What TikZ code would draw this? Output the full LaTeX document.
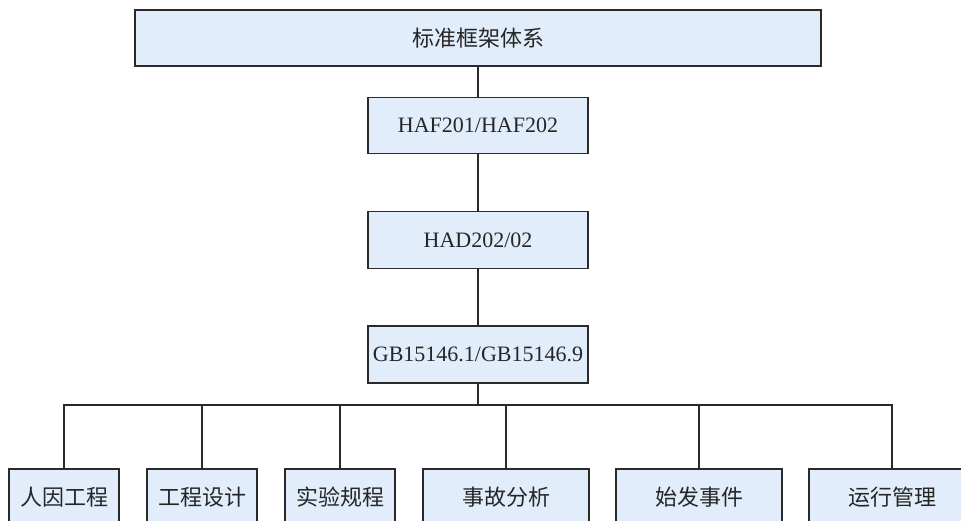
\documentclass[tikz,border=0pt]{standalone}
\usepackage{fontspec}
\setmainfont{Liberation Serif}
\newfontfamily\cjk{Noto Sans CJK SC}
\definecolor{boxfill}{HTML}{E1EDFB}
\definecolor{edgecol}{HTML}{2A2A2A}
\begin{document}
\begin{tikzpicture}[x=1pt,y=1pt,
  box/.style={draw=edgecol, fill=boxfill, line width=1.3pt, inner sep=0pt, font=\fontsize{22}{25}\selectfont, text=black!85},
  link/.style={draw=edgecol, line width=1.3pt}]
\useasboundingbox (0,0) rectangle (961,521);
\clip (0,0) rectangle (961,521);
\node[box, minimum width=686, minimum height=56] (top) at (478,483) {\cjk 标准框架体系};
\node[box, minimum width=220, minimum height=56] (haf) at (478,395.5) {HAF201/HAF202};
\node[box, minimum width=220, minimum height=57] (had) at (478,281) {HAD202/02};
\node[box, minimum width=220, minimum height=57] (gb) at (478,166.5) {GB15146.1/GB15146.9};
\coordinate (bus) at (478,116);
\node[box, minimum width=110, minimum height=56] (b1) at (64,24) {\cjk 人因工程};
\node[box, minimum width=110, minimum height=56] (b2) at (202,24) {\cjk 工程设计};
\node[box, minimum width=110, minimum height=56] (b3) at (340,24) {\cjk 实验规程};
\node[box, minimum width=166, minimum height=56] (b4) at (506,24) {\cjk 事故分析};
\node[box, minimum width=166, minimum height=56] (b5) at (699,24) {\cjk 始发事件};
\node[box, minimum width=166, minimum height=56] (b6) at (892,24) {\cjk 运行管理};
\draw[link] (top.south) -- (haf.north);
\draw[link] (haf.south) -- (had.north);
\draw[link] (had.south) -- (gb.north);
\draw[link] (gb.south) -- (bus);
\draw[link] (b1.north) -- (b1.north |- bus) -- (b6.north |- bus) -- (b6.north);
\foreach \b in {b2,b3,b4,b5} \draw[link] (\b.north) -- (\b.north |- bus);
\end{tikzpicture}
\end{document}
